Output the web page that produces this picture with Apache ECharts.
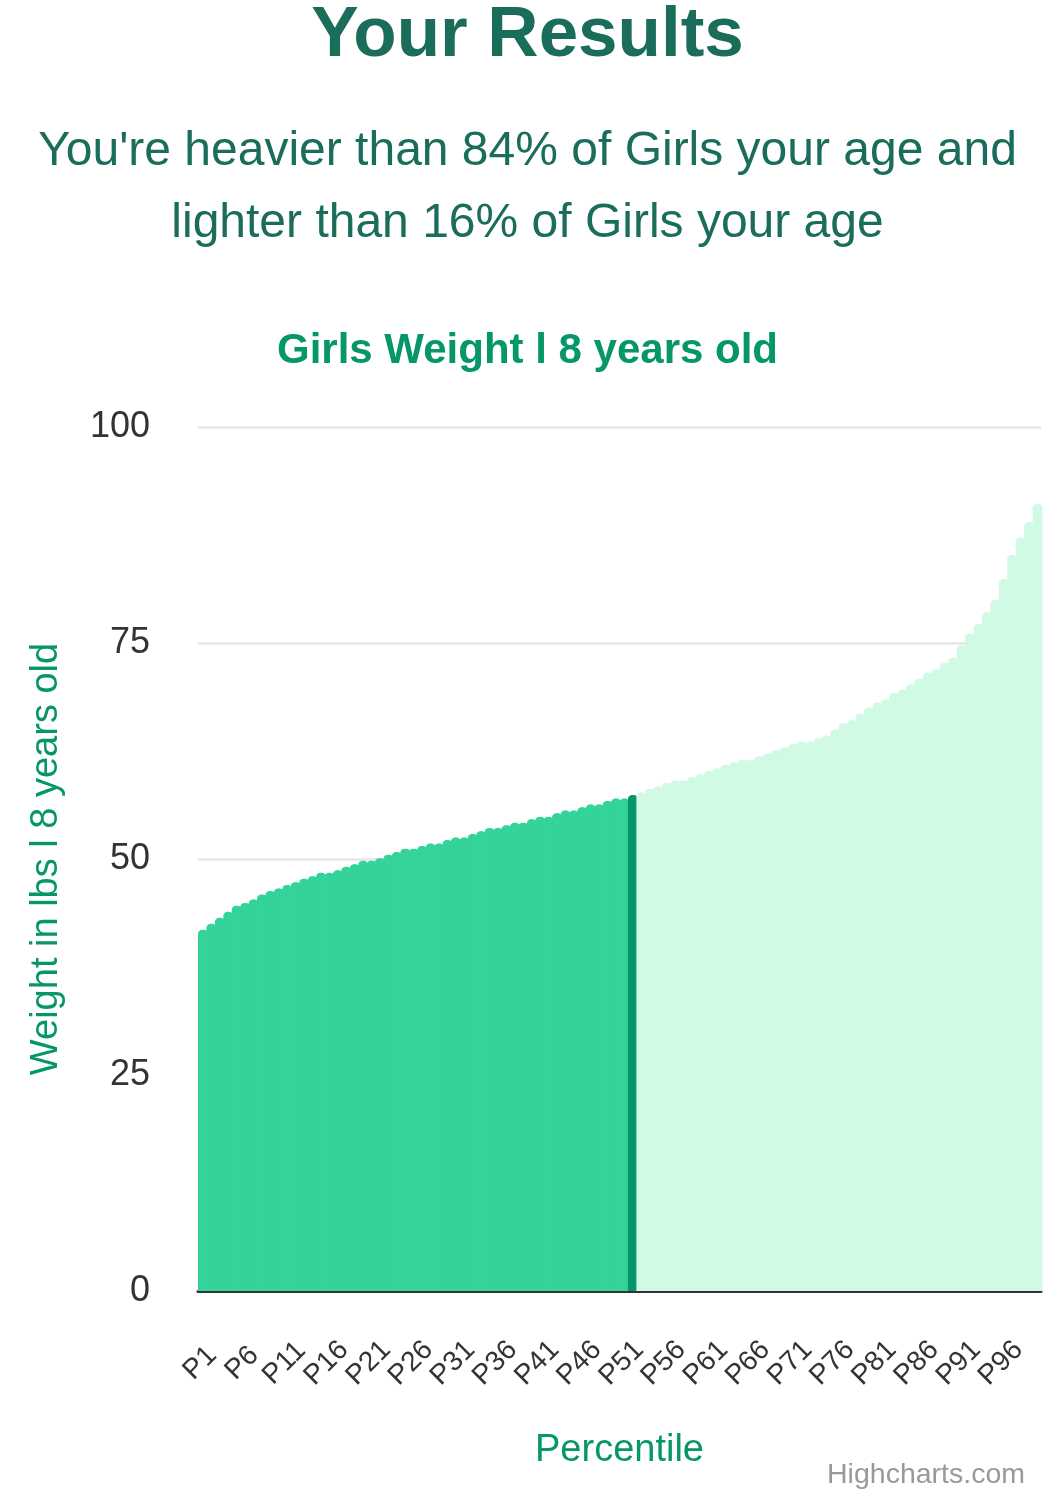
<!DOCTYPE html>
<html>
<head>
<meta charset="utf-8">
<title>Your Results</title>
<script src="https://cdn.jsdelivr.net/npm/echarts@6/dist/echarts.min.js"></script>
<style>
    html, body { margin: 0; padding: 0; background: #fff; }
    #chart { width: 1059px; height: 1500px; }
</style>
</head>
<body>
<div id="chart"></div>
<script>
// 百分位类别 P1 ~ P100
const percentiles = Array.from({ length: 100 }, (_, i) => 'P' + (i + 1));

// 每个百分位对应的体重 (lbs)
const weights = [
    41.8, 42.5, 43.2, 43.9, 44.6, 44.9, 45.3, 45.9, 46.3, 46.6,
    47.0, 47.3, 47.7, 48.0, 48.4, 48.4, 48.7, 49.1, 49.4, 49.8,
    49.8, 50.1, 50.5, 50.8, 51.2, 51.2, 51.5, 51.8, 51.8, 52.2,
    52.5, 52.5, 52.9, 53.2, 53.6, 53.6, 53.9, 54.2, 54.2, 54.6,
    54.9, 54.9, 55.3, 55.6, 55.6, 56.0, 56.3, 56.3, 56.7, 57.0,
    57.0, 57.4, 57.7, 58.1, 58.4, 58.8, 59.1, 59.1, 59.5, 59.8,
    60.2, 60.5, 60.9, 61.2, 61.5, 61.5, 61.9, 62.2, 62.6, 62.9,
    63.3, 63.6, 63.6, 64.0, 64.3, 65.0, 65.7, 66.1, 66.8, 67.5,
    68.1, 68.5, 69.2, 69.6, 70.2, 70.9, 71.6, 72.0, 72.7, 73.3,
    74.7, 76.1, 77.2, 78.6, 80.0, 82.4, 85.2, 87.2, 89.0, 91.1
];

// 当前用户所在位置
const userIndex = 51;

const FONT = '"Liberation Sans", Arial, Helvetica, sans-serif';
const colors = {
    title: '#1a6d5a',
    accent: '#059669',
    below: '#34d399',
    above: '#d1fae5',
    text: '#333333'
};

const chart = echarts.init(document.getElementById('chart'));

// 用户左侧、用户本身、用户右侧分别着色
// 用同色阴影向右偏移一点，盖住相邻柱子之间的白缝
const barData = weights.map((w, i) => {
    const c = i < userIndex ? colors.below : (i === userIndex ? colors.accent : colors.above);
    return {
        value: w,
        itemStyle: { color: c, shadowColor: c, shadowBlur: 0, shadowOffsetX: 1.5 }
    };
});

const option = {
    animation: false,
    textStyle: { fontFamily: FONT },
    title: [
        {
            text: 'Your Results',
            left: 527.5, top: 36, padding: 0,
            textAlign: 'center', textVerticalAlign: 'middle',
            textStyle: { fontSize: 71, fontWeight: 'bold', color: colors.title, fontFamily: FONT }
        },
        {
            text: "You're heavier than 84% of Girls your age and\nlighter than 16% of Girls your age",
            left: 527.5, top: 187.5, padding: 0,
            textAlign: 'center', textVerticalAlign: 'middle',
            textStyle: { fontSize: 48, fontWeight: 'normal', lineHeight: 72, color: colors.title, fontFamily: FONT }
        },
        {
            text: 'Girls Weight l 8 years old',
            left: 527.5, top: 351.5, padding: 0,
            textAlign: 'center', textVerticalAlign: 'middle',
            textStyle: { fontSize: 42, fontWeight: 'bold', color: colors.accent, fontFamily: FONT }
        },
        {
            text: 'Highcharts.com',
            left: 1025, top: 1475.5, padding: 0,
            textAlign: 'right', textVerticalAlign: 'middle',
            textStyle: { fontSize: 28.5, fontWeight: 'normal', color: '#999999', fontFamily: FONT }
        }
    ],
    grid: {
        left: 198,
        right: 18,
        top: 427,
        bottom: 209
    },
    xAxis: {
        type: 'category',
        data: percentiles,
        axisLine: { lineStyle: { color: colors.text, width: 3 } },
        axisTick: { show: false },
        axisLabel: {
            interval: 4,
            rotate: 45,
            fontSize: 28,
            color: colors.text,
            margin: 70,
            align: 'center',
            verticalAlign: 'middle',
            padding: [0, 6, 6, 0]
        },
        name: 'Percentile',
        nameLocation: 'middle',
        nameGap: 141,
        nameTextStyle: { fontSize: 38, color: colors.accent }
    },
    yAxis: {
        type: 'value',
        min: 0,
        max: 100,
        interval: 25,
        axisLine: { show: false },
        axisTick: { show: false },
        axisLabel: { fontSize: 36, color: colors.text, margin: 48, padding: [8, 0, 0, 0] },
        splitLine: { lineStyle: { color: '#e6e6e6', width: 2.5 } },
        name: 'Weight in lbs l 8 years old',
        nameLocation: 'middle',
        nameGap: 132,
        nameTextStyle: { fontSize: 38, color: colors.accent }
    },
    series: [
        {
            type: 'bar',
            data: barData,
            barCategoryGap: '0%',
            itemStyle: { borderRadius: [5, 5, 0, 0] }
        }
    ]
};

chart.setOption(option);

window.addEventListener('resize', function () {
    chart.resize();
});
</script>
</body>
</html>
